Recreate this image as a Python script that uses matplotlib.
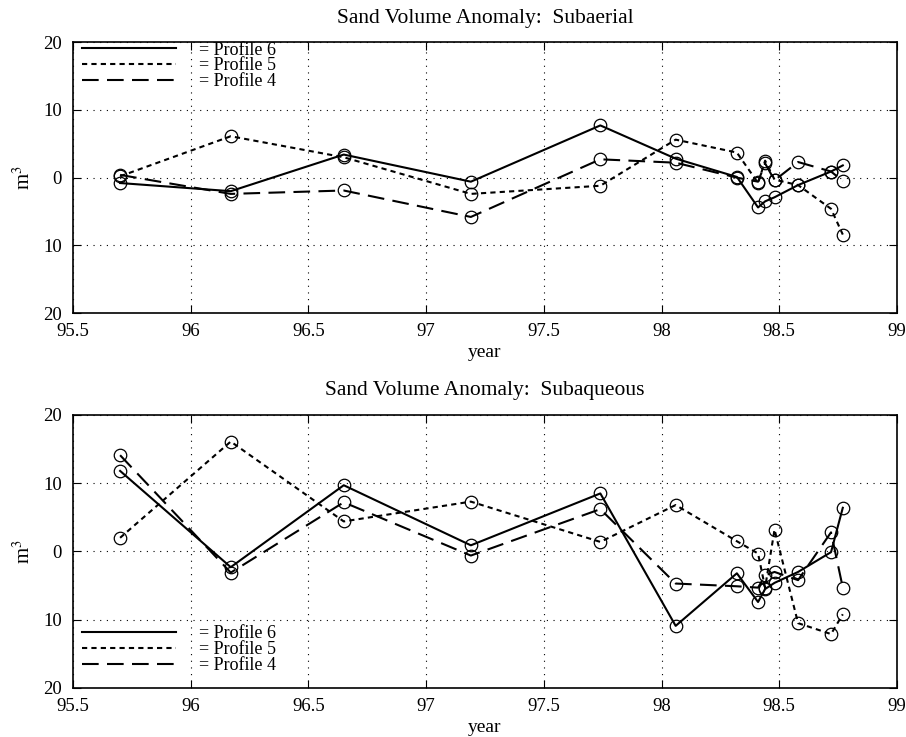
import matplotlib
matplotlib.use("Agg")
import matplotlib.pyplot as plt

plt.rcParams['font.family'] = ['Liberation Serif', 'DejaVu Serif']
plt.rcParams['mathtext.fontset'] = 'stix'

years = [95.70, 96.17, 96.65, 97.19, 97.74, 98.06, 98.32, 98.41, 98.44, 98.48, 98.58, 98.72, 98.77]

# Subaerial
aerial_p6 = [-0.8, -2.0, 3.4, -0.6, 7.7, 2.8, 0.1, -4.4, -3.5, -2.9, -1.1, 0.9, 1.8]
aerial_p5 = [0.2, 6.1, 3.0, -2.4, -1.2, 5.6, 3.7, -0.8, 2.5, -0.3, -1.1, -4.6, -8.4]
aerial_p4 = [0.4, -2.4, -1.9, -5.8, 2.7, 2.2, 0.0, -0.6, 2.1, -0.4, 2.3, 0.9, -0.5]

# Subaqueous
aqueous_p6 = [11.8, -2.3, 9.7, 0.9, 8.5, -10.9, -3.2, -7.4, -5.5, -4.6, -3.0, -0.1, 6.4]
aqueous_p5 = [2.0, 16.1, 4.4, 7.3, 1.4, 6.8, 1.5, -0.3, -5.3, 3.2, -10.5, -12.1, -9.2]
aqueous_p4 = [14.1, -3.1, 7.2, -0.6, 6.2, -4.7, -5.1, -5.3, -3.5, -3.0, -4.2, 2.8, -5.3]

titles = ["Sand Volume Anomaly:  Subaerial", "Sand Volume Anomaly:  Subaqueous"]
legend_labels = ["= Profile 6", "= Profile 5", "= Profile 4"]
xticks = [95.5, 96, 96.5, 97, 97.5, 98, 98.5, 99]
xticklabels = ["95.5", "96", "96.5", "97", "97.5", "98", "98.5", "99"]
yticks = [-20, -10, 0, 10, 20]
yticklabels = ["20", "10", "0", "10", "20"]

styles = [dict(linestyle='-'),
          dict(linestyle=(0, (2.5, 2.0))),
          dict(linestyle=(0, (8, 4)))]

fig = plt.figure(figsize=(9.06, 7.37), dpi=100)
ax1 = fig.add_axes([0.0806, 0.575, 0.9094, 0.368])
ax2 = fig.add_axes([0.0806, 0.0665, 0.9094, 0.3705])

datasets = [(ax1, [aerial_p6, aerial_p5, aerial_p4], 'upper left', (0.0, 1.035)),
            (ax2, [aqueous_p6, aqueous_p5, aqueous_p4], 'lower left', (0.0, 0.017))]

for i, (ax, series, loc, anchor) in enumerate(datasets):
    handles = []
    for vals, st, lab in zip(series, styles, legend_labels):
        ax.plot(years, vals, color='black', lw=1.5, marker='o', ms=9,
                mfc='none', mec='black', mew=0.9, **st)
        h, = ax.plot([], [], color='black', lw=1.5, label=lab, **st)
        handles.append(h)
    ax.set_xlim(95.5, 99)
    ax.set_ylim(-20, 20)
    ax.set_xticks(xticks)
    ax.set_xticklabels(xticklabels)
    ax.set_yticks(yticks)
    ax.set_yticklabels(yticklabels)
    ax.tick_params(direction='in', top=True, right=True, labelsize=13.5,
                   length=6, width=0.8)
    ax.tick_params(axis='x', pad=7)
    ax.tick_params(axis='y', pad=8)
    ax.grid(True, color='black', linestyle=(0, (1, 5)), linewidth=0.8)
    for sp in ax.spines.values():
        sp.set_linewidth(1.2)
    ax.set_title(titles[i], fontsize=15.5, pad=14)
    ax.set_xlabel("year", fontsize=14, labelpad=3)
    ax.set_ylabel("m$^3$", fontsize=15, labelpad=6)
    ax.legend(handles=handles, loc=loc, bbox_to_anchor=anchor, frameon=False,
              fontsize=13, handlelength=5.2, handletextpad=1.3,
              labelspacing=-0.06, borderaxespad=0.3, borderpad=0.2)

fig.savefig("out.png", dpi=100)
